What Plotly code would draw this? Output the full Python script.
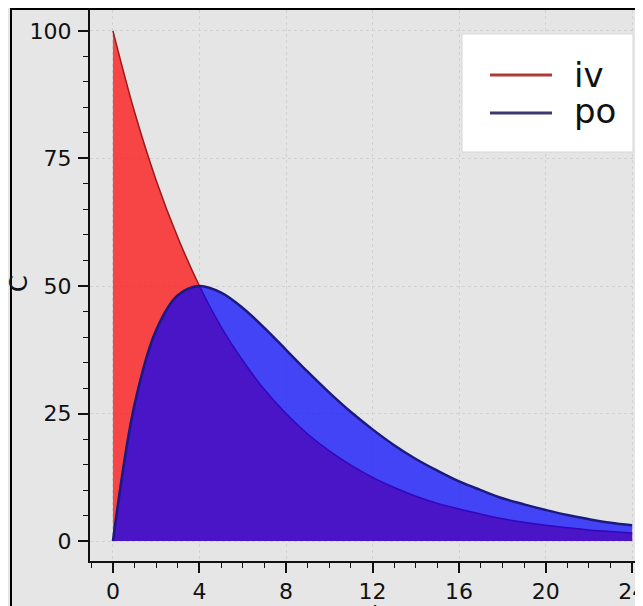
import plotly.graph_objects as go

# Data (time in hours, concentration C)
t = list(range(25))
iv = [100, 84.1, 70.7, 59.5, 50.0, 42.0, 35.4, 29.7, 25.0, 21.0, 17.7, 14.9, 12.5,
      10.5, 8.8, 7.4, 6.3, 5.3, 4.4, 3.7, 3.1, 2.6, 2.2, 1.9, 1.6]
po = [0, 26.8, 41.4, 48.2, 50.0, 48.7, 45.7, 41.8, 37.5, 33.2, 29.1, 25.3, 21.9,
      18.8, 16.1, 13.8, 11.7, 10.0, 8.4, 7.2, 6.1, 5.1, 4.3, 3.6, 3.1]
series_names = ["iv", "po"]
x_ticks = [0, 4, 8, 12, 16, 20, 24]
y_ticks = [0, 25, 50, 75, 100]

FONT = "DejaVu Sans"
OFF = 8                      # page body margin offset
W, H = 643 - OFF, 606 - OFF
ML, MT = 90 - OFF, 10 - OFF
MB = H - (561 - OFF)

fig = go.Figure()
fig.add_trace(go.Scatter(x=t, y=iv, name=series_names[0], mode="lines",
                         line=dict(color="#a01818", width=1.5, shape="spline"),
                         fill="tozeroy", fillcolor="rgba(255,0,0,0.7)", showlegend=False))
fig.add_trace(go.Scatter(x=t, y=po, name=series_names[1], mode="lines",
                         line=dict(color="#1a1a80", width=2.5, shape="spline"),
                         fill="tozeroy", fillcolor="rgba(0,0,255,0.7)", showlegend=False))

pw = W - ML
ph = H - MT - MB
def px(x):  # screen x -> paper
    return (x - OFF - ML) / pw
def py(y):  # screen y -> paper
    return (H - MB - (y - OFF)) / ph

shapes = [
    # outer figure border
    dict(type="rect", xref="paper", yref="paper", x0=px(11), x1=px(670), y0=py(640), y1=py(9),
         line=dict(color="black", width=2), fillcolor="rgba(0,0,0,0)", layer="above"),
    # legend box
    dict(type="rect", xref="paper", yref="paper", x0=px(462), x1=px(633), y0=py(152), y1=py(34),
         line=dict(color="#d8d8d8", width=1), fillcolor="white", layer="above"),
    dict(type="line", xref="paper", yref="paper", x0=px(490), x1=px(552), y0=py(75), y1=py(75),
         line=dict(color="#b03a3a", width=3), layer="above"),
    dict(type="line", xref="paper", yref="paper", x0=px(490), x1=px(552), y0=py(113), y1=py(113),
         line=dict(color="#3a3a6e", width=3), layer="above"),
]
annotations = [
    dict(text=series_names[0], xref="paper", yref="paper", x=px(572), y=py(75),
         xanchor="left", yanchor="middle", showarrow=False,
         font=dict(family=FONT, size=34, color="#111")),
    dict(text=series_names[1], xref="paper", yref="paper", x=px(572), y=py(111),
         xanchor="left", yanchor="middle", showarrow=False,
         font=dict(family=FONT, size=34, color="#111")),
    dict(text="C", xref="paper", yref="paper", x=px(19), y=py(284), textangle=-90,
         xanchor="center", yanchor="middle", showarrow=False,
         font=dict(family=FONT, size=24, color="#111")),
    dict(text="t", xref="paper", yref="paper", x=px(376), y=py(598),
         xanchor="center", yanchor="top", showarrow=False,
         font=dict(family=FONT, size=22, color="#111")),
]

fig.update_layout(
    width=W, height=H,
    margin=dict(l=ML, r=0, t=MT, b=MB, autoexpand=False),
    paper_bgcolor="#e6e6e6", plot_bgcolor="#e5e5e5",
    font=dict(family=FONT, size=22, color="#111"),
    shapes=shapes, annotations=annotations,
    showlegend=False,
)
fig.update_xaxes(range=[-1.06, 24.5], tickvals=x_ticks, ticks="outside", ticklen=10, tickwidth=2,
                 tickcolor="#111", showline=True, linecolor="#111", linewidth=2, mirror=True,
                 showgrid=True, gridcolor="#d2d2d2", griddash="dot", gridwidth=1,
                 zeroline=False, automargin=False, ticklabelstandoff=0,
                 ticklabeloverflow="allow",
                 minor=dict(dtick=1, tick0=0, ticks="outside", ticklen=5, tickcolor="#111",
                            tickwidth=1, showgrid=False))
fig.update_yaxes(range=[-3.9, 104.1], tickvals=y_ticks, ticks="outside", ticklen=10, tickwidth=2,
                 tickcolor="#111", showline=True, linecolor="#111", linewidth=2, mirror=True,
                 showgrid=True, gridcolor="#d2d2d2", griddash="dot", gridwidth=1,
                 zeroline=False, automargin=False, ticklabelstandoff=2,
                 minor=dict(dtick=5, tick0=0, ticks="outside", ticklen=5, tickcolor="#111",
                            tickwidth=1, showgrid=False))

fig.write_html("out.html")
